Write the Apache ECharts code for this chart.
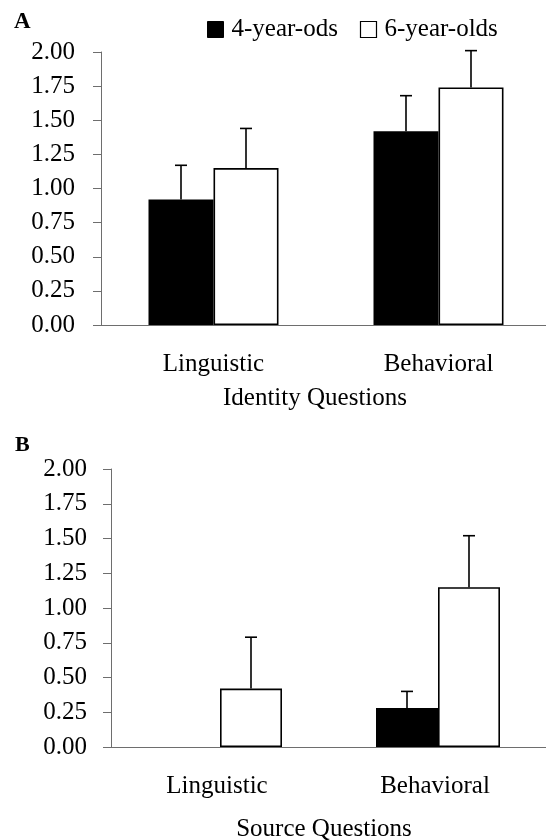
<!DOCTYPE html>
<html><head><meta charset="utf-8">
<script src="https://cdn.jsdelivr.net/npm/echarts@6/dist/echarts.min.js"></script>
<style>html,body{margin:0;padding:0;background:#fff}#c{width:546px;height:840px}</style>
</head><body><div id="c"></div>
<script>
// ---- data ----
const categories = ['Linguistic', 'Behavioral'];
const seriesNames = ['4-year-ods', '6-year-olds'];
const panelTitles = ['Identity Questions', 'Source Questions'];
const panelLetters = ['A', 'B'];
// Panel A: Identity questions (means and upper end of error bar)
const identity4 = [0.92, 1.42];
const identity4Upper = [1.17, 1.68];
const identity6 = [1.15, 1.74];
const identity6Upper = [1.44, 2.01];
// Panel B: Source questions
const source4 = [0, 0.28];
const source4Upper = [0, 0.40];
const source6 = [0.42, 1.15];
const source6Upper = [0.79, 1.52];

const FONT = '"Liberation Serif", "Times New Roman", serif';
const AXIS_COLOR = '#6e6e6e';

const chart = echarts.init(document.getElementById('c'), null, {renderer: 'canvas'});

function yAxis(gridIndex, margin) {
  return {
    type: 'value', gridIndex: gridIndex, min: 0, max: 2, interval: 0.25,
    axisLine: {show: true, lineStyle: {color: AXIS_COLOR, width: 1}},
    axisTick: {show: true, length: 8, lineStyle: {color: AXIS_COLOR, width: 1}},
    splitLine: {show: false},
    axisLabel: {margin: margin, color: '#000', fontFamily: FONT, fontSize: 25,
      formatter: v => v.toFixed(2)}
  };
}
function xAxis(gridIndex, name, nameGap, pad, labelPad) {
  return {
    type: 'category', gridIndex: gridIndex, data: categories,
    axisLine: {show: true, onZero: false, lineStyle: {color: AXIS_COLOR, width: 1}},
    axisTick: {show: false},
    axisLabel: {margin: 27, color: '#000', fontFamily: FONT, fontSize: 25, padding: labelPad},
    name: name, nameLocation: 'middle', nameGap: nameGap,
    nameTextStyle: {color: '#000', fontFamily: FONT, fontSize: 25, padding: pad}
  };
}

function barSeries(name, data, idx, width, isBlack) {
  return {
    type: 'bar', name: name, data: data, xAxisIndex: idx, yAxisIndex: idx,
    barWidth: width, barGap: '0%',
    itemStyle: isBlack ? {color: '#000', borderColor: '#000', borderWidth: 0}
                       : {color: '#fff', borderColor: '#000', borderWidth: 1.6},
    emphasis: {disabled: true}, animation: false
  };
}

function errSeries(values, uppers, idx, offset) {
  const data = values.map((v, i) => [i, v, uppers[i]]);
  return {
    type: 'custom', xAxisIndex: idx, yAxisIndex: idx, z: 5, clip: false,
    silent: true, animation: false,
    data: data,
    renderItem: function (params, api) {
      const i = api.value(0), v = api.value(1), up = api.value(2);
      if (!(up > v)) return null;
      const base = api.coord([i, v]);
      const top = api.coord([i, up]);
      const x = base[0] + offset;
      const cap = 6;
      const style = {stroke: '#000', lineWidth: 1.6};
      return {
        type: 'group',
        children: [
          {type: 'line', shape: {x1: x, y1: base[1], x2: x, y2: top[1]}, style: style},
          {type: 'line', shape: {x1: x - cap, y1: top[1], x2: x + cap, y2: top[1]}, style: style}
        ]
      };
    }
  };
}

const wA = 65, wB = 62;

chart.setOption({
  backgroundColor: '#fff',
  animation: false,
  textStyle: {fontFamily: FONT, color: '#000'},
  legend: {
    data: [
      {name: seriesNames[0], itemStyle: {color: '#000', borderColor: '#000', borderWidth: 1}},
      {name: seriesNames[1], itemStyle: {color: '#fff', borderColor: '#000', borderWidth: 1.2}}
    ],
    left: 202, top: 12, icon: 'rect', itemWidth: 16, itemHeight: 16, itemGap: 22,
    selectedMode: false,
    textStyle: {fontFamily: FONT, fontSize: 25, color: '#000', padding: [0, 0, 0, 3]}
  },
  graphic: [
    {type: 'text', left: 14, top: 11, style: {text: panelLetters[0], fontFamily: FONT, fontWeight: 'bold', fontSize: 23, fill: '#000'}},
    {type: 'text', left: 15, top: 434, style: {text: panelLetters[1], fontFamily: FONT, fontWeight: 'bold', fontSize: 22, fill: '#000'}}
  ],
  grid: [
    {left: 101, top: 52, width: 450, height: 273, outerBoundsMode: 'none', containLabel: false},
    {left: 111, top: 469, width: 436, height: 278, outerBoundsMode: 'none', containLabel: false}
  ],
  xAxis: [
    xAxis(0, panelTitles[0], 61, [0, 22, 0, 0], [0, 0, 0, 0]),
    xAxis(1, panelTitles[1], 70, [0, 10, 0, 0], [0, 6, 0, 0])
  ],
  yAxis: [yAxis(0, 26), yAxis(1, 24)],
  series: [
    barSeries(seriesNames[0], identity4, 0, wA, true),
    barSeries(seriesNames[1], identity6, 0, wA, false),
    errSeries(identity4, identity4Upper, 0, -wA / 2),
    errSeries(identity6, identity6Upper, 0, wA / 2),
    barSeries(seriesNames[0], source4, 1, wB, true),
    barSeries(seriesNames[1], source6, 1, wB, false),
    errSeries(source4, source4Upper, 1, -wB / 2),
    errSeries(source6, source6Upper, 1, wB / 2)
  ]
});
</script></body></html>
